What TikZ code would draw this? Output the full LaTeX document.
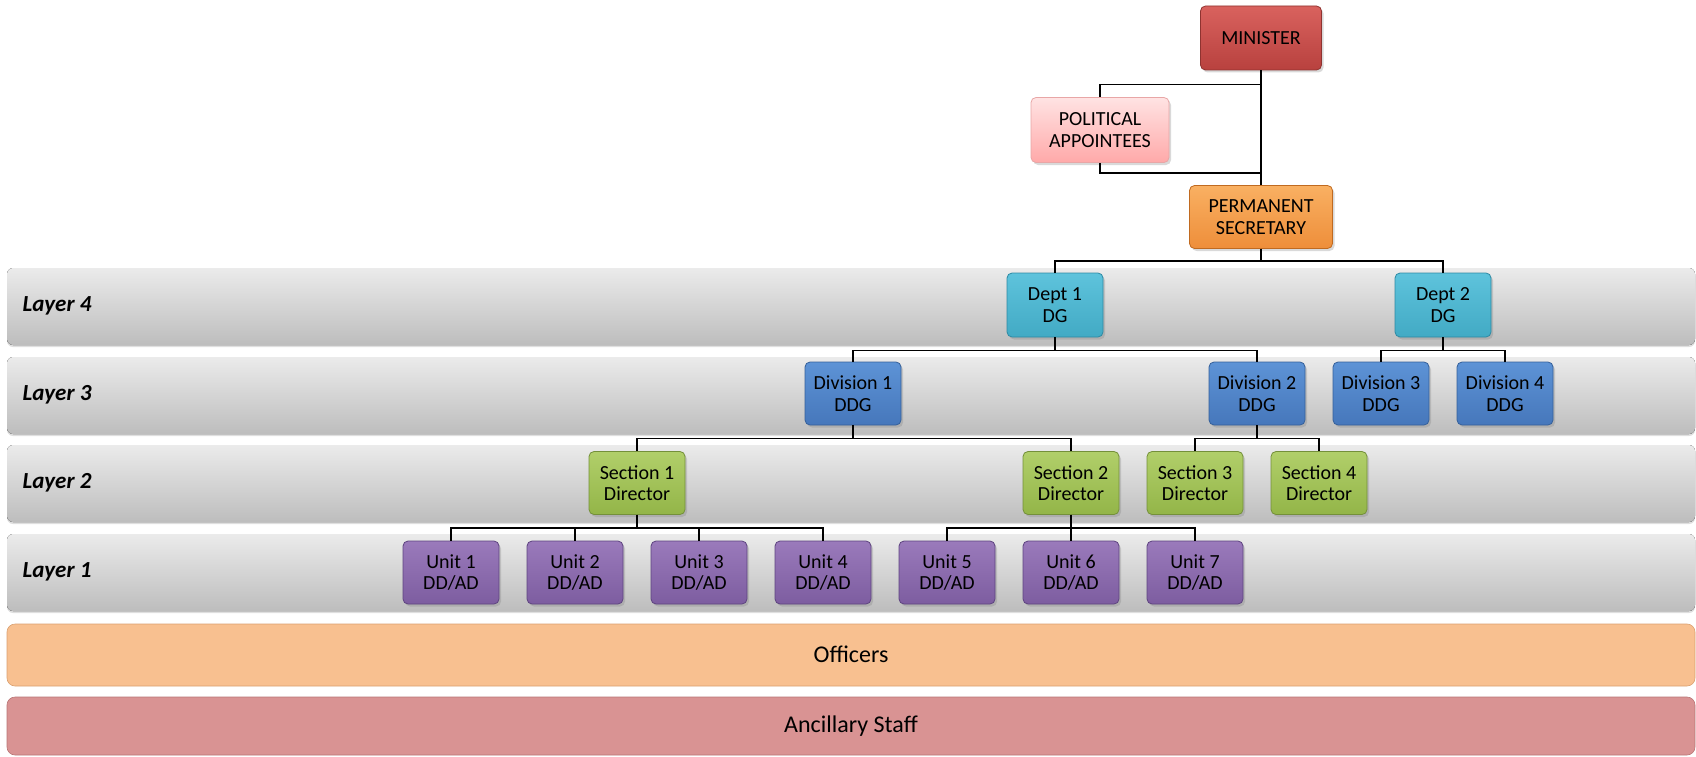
\documentclass[tikz,border=0pt]{standalone}
\usepackage{fontspec}
\setmainfont{Carlito}
\usetikzlibrary{shadows}
\definecolor{minT}{HTML}{D9625E}\definecolor{minB}{HTML}{B8413E}\definecolor{minD}{HTML}{8F3330}
\definecolor{paT}{HTML}{FFE3E3}\definecolor{paB}{HTML}{FFA9A9}\definecolor{paD}{HTML}{E8A6A6}
\definecolor{psT}{HTML}{F9B062}\definecolor{psB}{HTML}{EE8E3A}\definecolor{psD}{HTML}{C06A20}
\definecolor{dpT}{HTML}{5EC3DC}\definecolor{dpB}{HTML}{42AAC4}\definecolor{dpD}{HTML}{2E8AA4}
\definecolor{dvT}{HTML}{5D93D6}\definecolor{dvB}{HTML}{4677BB}\definecolor{dvD}{HTML}{35609A}
\definecolor{scT}{HTML}{B1CF6A}\definecolor{scB}{HTML}{93B548}\definecolor{scD}{HTML}{74903A}
\definecolor{unT}{HTML}{9A7ABB}\definecolor{unB}{HTML}{7D5DA0}\definecolor{unD}{HTML}{5E4480}
\definecolor{bandT}{HTML}{EBEBEB}\definecolor{bandB}{HTML}{BDBDBD}
\definecolor{offF}{HTML}{F8C090}\definecolor{offD}{HTML}{D9A070}
\definecolor{ancF}{HTML}{D99393}\definecolor{ancD}{HTML}{B87575}
\begin{document}
\begin{tikzpicture}[x=1pt,y=-1pt,
  orgbox/.style={rounded corners=5pt, minimum width=96pt, minimum height=63pt,
    align=center, inner sep=0pt, font=\fontsize{20}{21.5}\selectfont, line width=0.8pt,
    drop shadow={opacity=0.3, shadow xshift=2pt, shadow yshift=-2.5pt}},
  minbox/.style={orgbox, top color=minT, bottom color=minB, draw=minD},
  pabox/.style={orgbox, top color=paT, bottom color=paB, draw=paD},
  psbox/.style={orgbox, top color=psT, bottom color=psB, draw=psD},
  dptbox/.style={orgbox, top color=dpT, bottom color=dpB, draw=dpD},
  divbox/.style={orgbox, top color=dvT, bottom color=dvB, draw=dvD},
  secbox/.style={orgbox, top color=scT, bottom color=scB, draw=scD},
  unitbox/.style={orgbox, top color=unT, bottom color=unB, draw=unD},
  band/.style={rounded corners=6pt, top color=bandT, bottom color=bandB,
    drop shadow={opacity=0.25, shadow xshift=0pt, shadow yshift=-2pt}},
  layerlabel/.style={anchor=west, font=\fontsize{23}{26}\selectfont\bfseries\itshape},
  bottomband/.style={rounded corners=8pt, line width=0.6pt},
  bandtext/.style={font=\fontsize{24}{28}\selectfont},
  conn/.style={line width=1.7pt, black}
]
\useasboundingbox (0,0) rectangle (1696,757);

% layer bands
\fill[band] (7,268) rectangle (1695,345);
\fill[band] (7,357) rectangle (1695,434);
\fill[band] (7,445) rectangle (1695,522);
\fill[band] (7,534) rectangle (1695,611);
\node[layerlabel] (l4) at (19,306) {Layer 4};
\node[layerlabel] (l3) at (19,395) {Layer 3};
\node[layerlabel] (l2) at (19,483) {Layer 2};
\node[layerlabel] (l1) at (19,572) {Layer 1};

% bottom bands
\draw[bottomband, fill=offF, draw=offD] (7,624) rectangle (1695,686);
\node[bandtext] (off) at (851,654) {Officers};
\draw[bottomband, fill=ancF, draw=ancD] (7,697) rectangle (1695,755);
\node[bandtext] (anc) at (851,726) {Ancillary Staff};

% top
\node[minbox, minimum width=121pt, minimum height=64pt] (min) at (1261,38) {MINISTER};
\node[pabox, minimum width=138pt, minimum height=65pt] (pa) at (1100,130) {POLITICAL\\APPOINTEES};
\node[psbox, minimum width=143pt, minimum height=63pt] (ps) at (1261,217) {PERMANENT\\SECRETARY};

% layer 4
\node[dptbox, minimum height=64pt] (d1) at (1055,305) {Dept 1\\DG};
\node[dptbox, minimum height=64pt] (d2) at (1443,305) {Dept 2\\DG};

% layer 3
\node[divbox] (v1) at (853,393.5) {Division 1\\DDG};
\node[divbox] (v2) at (1257,393.5) {Division 2\\DDG};
\node[divbox] (v3) at (1381,393.5) {Division 3\\DDG};
\node[divbox] (v4) at (1505,393.5) {Division 4\\DDG};

% layer 2
\node[secbox] (s1) at (637,483) {Section 1\\Director};
\node[secbox] (s2) at (1071,483) {Section 2\\Director};
\node[secbox] (s3) at (1195,483) {Section 3\\Director};
\node[secbox] (s4) at (1319,483) {Section 4\\Director};

% layer 1
\node[unitbox] (u1) at (451,572.5) {Unit 1\\DD/AD};
\node[unitbox] (u2) at (575,572.5) {Unit 2\\DD/AD};
\node[unitbox] (u3) at (699,572.5) {Unit 3\\DD/AD};
\node[unitbox] (u4) at (823,572.5) {Unit 4\\DD/AD};
\node[unitbox] (u5) at (947,572.5) {Unit 5\\DD/AD};
\node[unitbox] (u6) at (1071,572.5) {Unit 6\\DD/AD};
\node[unitbox] (u7) at (1195,572.5) {Unit 7\\DD/AD};

% connectors
\draw[conn] (min.south) -- (ps.north);
\draw[conn] (min.south) -- ++(0,14) -| (pa.north);
\draw[conn] (pa.south) -- ++(0,10) -| (ps.north);
\foreach \t in {d1,d2} \draw[conn] (ps.south) -- ++(0,12) -| (\t.north);
\foreach \t in {v1,v2} \draw[conn] (d1.south) -- ++(0,13) -| (\t.north);
\foreach \t in {v3,v4} \draw[conn] (d2.south) -- ++(0,13) -| (\t.north);
\foreach \t in {s1,s2} \draw[conn] (v1.south) -- ++(0,13) -| (\t.north);
\foreach \t in {s3,s4} \draw[conn] (v2.south) -- ++(0,13) -| (\t.north);
\foreach \t in {u1,u2,u3,u4} \draw[conn] (s1.south) -- ++(0,13) -| (\t.north);
\foreach \t in {u5,u6,u7} \draw[conn] (s2.south) -- ++(0,13) -| (\t.north);
\end{tikzpicture}
\end{document}
